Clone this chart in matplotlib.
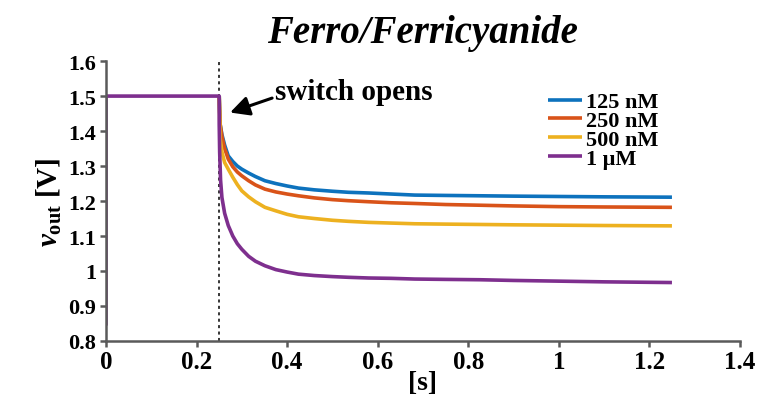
import matplotlib
matplotlib.use("Agg")
import matplotlib.pyplot as plt

plt.rcParams["font.family"] = ["Liberation Serif", "DejaVu Serif"]
plt.rcParams["font.weight"] = "bold"
plt.rcParams["mathtext.fontset"] = "custom"
plt.rcParams["mathtext.rm"] = "Liberation Serif:bold"
plt.rcParams["mathtext.it"] = "Liberation Serif:bold:italic"

# Time samples [s] after the switch and output voltages [V] per concentration
t_decay = [0.25, 0.252, 0.256, 0.262, 0.270, 0.280, 0.290, 0.300, 0.315, 0.330,
           0.351, 0.375, 0.40, 0.425, 0.46, 0.50, 0.535, 0.58, 0.63, 0.682,
           0.75, 0.826, 0.90, 1.0, 1.1, 1.25]
v_125nM = [1.50, 1.42, 1.39, 1.36, 1.329, 1.313, 1.300, 1.291, 1.280, 1.270,
           1.258, 1.250, 1.243, 1.237, 1.232, 1.228, 1.225, 1.223, 1.220, 1.217,
           1.216, 1.215, 1.214, 1.213, 1.212, 1.211]
v_250nM = [1.50, 1.42, 1.385, 1.35, 1.320, 1.298, 1.283, 1.272, 1.258, 1.246,
           1.234, 1.226, 1.220, 1.215, 1.209, 1.204, 1.201, 1.198, 1.195, 1.193,
           1.190, 1.188, 1.186, 1.184, 1.183, 1.182]
v_500nM = [1.50, 1.38, 1.34, 1.31, 1.291, 1.268, 1.247, 1.229, 1.212, 1.198,
           1.182, 1.172, 1.162, 1.155, 1.150, 1.145, 1.142, 1.139, 1.137, 1.135,
           1.134, 1.133, 1.132, 1.131, 1.130, 1.129]

# 1 uM trace: power-up at t = 0, hold at 1.5 V, then decay after the switch
t_1uM = [0.0, 0.0, 0.25, 0.25, 0.251, 0.253, 0.256, 0.262, 0.270, 0.280, 0.290,
         0.300, 0.315, 0.330, 0.351, 0.375, 0.40, 0.425, 0.46, 0.50, 0.535,
         0.58, 0.63, 0.682, 0.75, 0.826, 0.90, 1.0, 1.1, 1.25]
v_1uM = [0.844, 1.50, 1.50, 1.42, 1.34, 1.26, 1.21, 1.165, 1.13, 1.100, 1.078,
         1.062, 1.042, 1.028, 1.015, 1.004, 0.997, 0.991, 0.987, 0.984, 0.982,
         0.980, 0.979, 0.977, 0.976, 0.975, 0.973, 0.971, 0.969, 0.967]

labels = ["125 nM", "250 nM", "500 nM", "1 \u03bcM"]
colors = ["#0d72bd", "#d95319", "#edb120", "#7e2f8e"]

x_ticks = [0, 0.2, 0.4, 0.6, 0.8, 1, 1.2, 1.4]
x_tick_labels = ["0", "0.2", "0.4", "0.6", "0.8", "1", "1.2", "1.4"]
y_ticks = [0.8, 0.9, 1.0, 1.1, 1.2, 1.3, 1.4, 1.5, 1.6]
y_tick_labels = ["0.8", "0.9", "1", "1.1", "1.2", "1.3", "1.4", "1.5", "1.6"]

switch_time = 0.25
axis_gray = "#5a5a5a"
lw = 2.6

fig = plt.figure(figsize=(7.6, 4.14), dpi=100)
ax = fig.add_axes([0.1395, 0.174, 0.834, 0.676])

for t, v, c, lab in ((t_decay, v_125nM, colors[0], labels[0]),
                     (t_decay, v_250nM, colors[1], labels[1]),
                     (t_decay, v_500nM, colors[2], labels[2]),
                     (t_1uM, v_1uM, colors[3], labels[3])):
    ax.plot(t, v, color=c, lw=lw, label=lab,
            solid_joinstyle="round", solid_capstyle="butt")

ax.axvline(switch_time, color="black", lw=1.1, ls=(0, (2, 2.2)), zorder=0)

ax.annotate("switch opens", xy=(0.274, 1.453), xytext=(0.373, 1.491),
            fontsize=21, fontweight="bold", va="baseline", ha="left",
            arrowprops=dict(arrowstyle="-|>,head_length=0.55,head_width=0.28",
                            color="black", lw=2.2, shrinkA=0, shrinkB=0,
                            relpos=(0.0, 0.3)))

ax.set_xlim(0, 1.4)
ax.set_ylim(0.8, 1.6)
ax.set_xticks(x_ticks)
ax.set_xticklabels(x_tick_labels)
ax.set_yticks(y_ticks)
ax.set_yticklabels(y_tick_labels)
ax.tick_params(direction="out", length=4.5, width=1.8, color=axis_gray)
ax.tick_params(axis="x", labelsize=18, pad=2)
ax.tick_params(axis="y", labelsize=16, pad=2.5)
for lab in ax.get_xticklabels() + ax.get_yticklabels():
    lab.set_fontweight("bold")

for side in ("top", "right"):
    ax.spines[side].set_visible(False)
for side in ("left", "bottom"):
    ax.spines[side].set_color(axis_gray)
    ax.spines[side].set_linewidth(1.8)

ax.set_xlabel("[s]", fontsize=20, fontweight="bold", labelpad=-2)
ax.set_ylabel(r"$\mathit{v}_{\mathrm{out}}$ [V]", fontsize=21,
              fontweight="bold", labelpad=3)
ax.set_title("Ferro/Ferricyanide", fontsize=28, fontweight="bold",
             style="italic", pad=14)

leg = ax.legend(loc="upper left", bbox_to_anchor=(0.697, 0.89), frameon=False,
                fontsize=16, handlelength=1.55, handletextpad=0.15,
                labelspacing=-0.08, borderaxespad=0, borderpad=0)
for line in leg.get_lines():
    line.set_linewidth(lw)

fig.savefig("out.png", dpi=100)
